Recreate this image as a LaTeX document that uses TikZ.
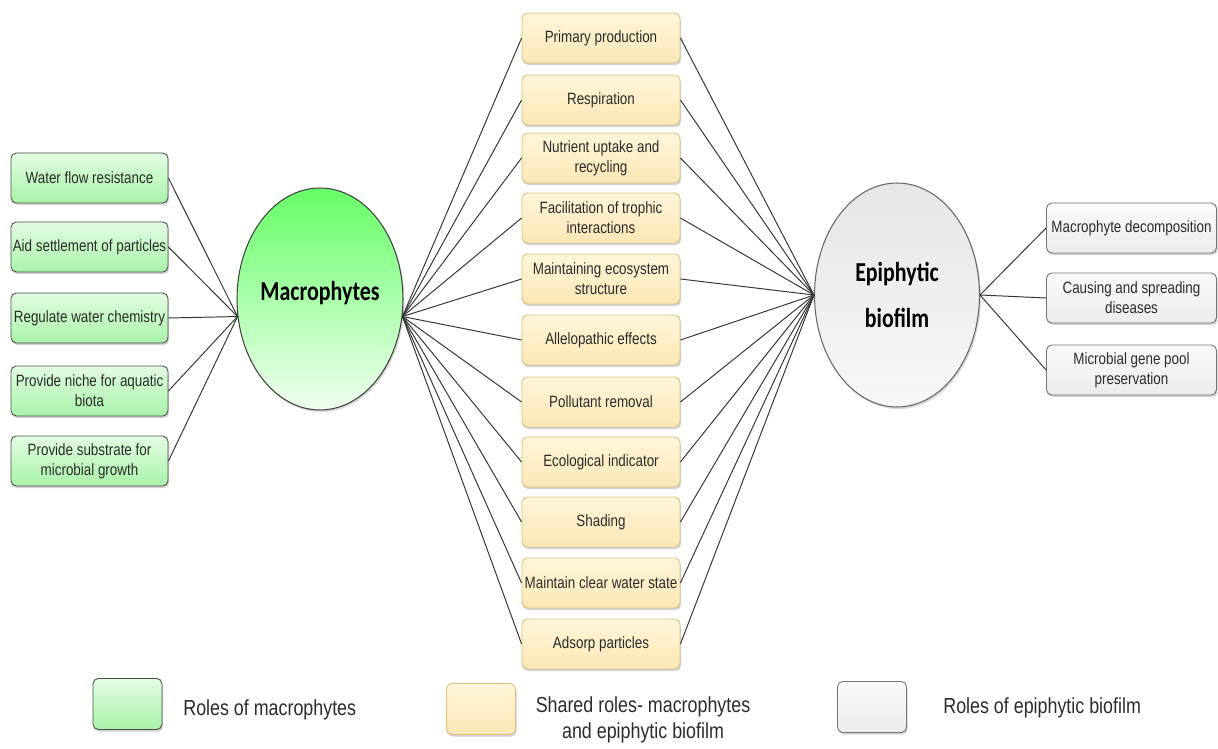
\documentclass[tikz,border=0pt]{standalone}
\usepackage{fontspec}
\setmainfont{Liberation Sans}[FakeStretch=0.82]
\newfontfamily\hubfont{Carlito}[FakeStretch=0.8]
\usepackage{tikz}
\usetikzlibrary{shapes}
\usetikzlibrary{shadows}

\definecolor{macTop}{HTML}{66FF66}
\definecolor{macBottom}{HTML}{F0FFF0}
\definecolor{greenTop}{HTML}{E3FCE3}
\definecolor{greenBottom}{HTML}{A8F3A8}
\definecolor{shareTop}{HTML}{FFF6DA}
\definecolor{shareBottom}{HTML}{FBE7B4}
\definecolor{shareLine}{HTML}{D8C07E}
\definecolor{epiTop}{HTML}{E6E6E6}
\definecolor{epiBottom}{HTML}{F7F7F7}
\definecolor{greyTop}{HTML}{FAFAFA}
\definecolor{greyBottom}{HTML}{ECECEC}
\definecolor{textGrey}{HTML}{2B2B2B}

\begin{document}
\begin{tikzpicture}[x=0.02cm, y=-0.02cm,
        box_style/.style={rectangle, rounded corners=3pt, align=center, inner sep=1pt,
            font=\fontsize{9.3}{11.5}\selectfont, text=textGrey, line width=0.5pt,
            drop shadow={shadow xshift=0.6pt, shadow yshift=-1.2pt, opacity=0.35}},
        mac_style/.style={box_style, draw=black!70, top color=greenTop, bottom color=greenBottom,
            minimum width=3.14cm, minimum height=1cm},
        shared_style/.style={box_style, draw=shareLine, top color=shareTop, bottom color=shareBottom,
            minimum width=3.16cm, minimum height=1cm},
        epi_style/.style={box_style, draw=black!55, top color=greyTop, bottom color=greyBottom,
            minimum width=3.4cm, minimum height=1cm},
        hub_style/.style={ellipse, inner sep=0pt, align=center, line width=0.6pt,
            font=\hubfont\bfseries\fontsize{15.6}{26}\selectfont,
            drop shadow={shadow xshift=0.8pt, shadow yshift=-1.2pt, opacity=0.3}},
        key_style/.style={rectangle, rounded corners=3pt, minimum width=1.38cm, minimum height=1.02cm,
            line width=0.5pt, drop shadow={shadow xshift=0.6pt, shadow yshift=-1.2pt, opacity=0.35}},
        key_text/.style={font=\fontsize{12.4}{15}\selectfont, text=textGrey, align=center, inner sep=0pt},
        edge_style/.style={draw=black!80, line width=0.55pt}]

        \useasboundingbox (0,0) rectangle (1218,749);

        % hubs
        \node [hub_style, draw=black!75, top color=macTop, bottom color=macBottom,
            minimum width=3.32cm, minimum height=4.44cm](mac) at (320,299) {};
        \node [font=\hubfont\bfseries\fontsize{15.6}{26}\selectfont](mac_label) at (320,293) {Macrophytes};

        \node [hub_style, draw=black!60, top color=epiTop, bottom color=epiBottom,
            minimum width=3.3cm, minimum height=4.48cm](epi) at (897,295) {Epiphytic\\biofilm};

        % roles of macrophytes
        \node [mac_style](l1) at (89.5,178) {Water flow resistance};
        \node [mac_style](l2) at (89.5,247) {Aid settlement of particles};
        \node [mac_style](l3) at (89.5,318) {Regulate water chemistry};
        \node [mac_style](l4) at (89.5,391) {Provide niche for aquatic\\biota};
        \node [mac_style](l5) at (89.5,461) {Provide substrate for\\microbial growth};

        % shared roles
        \node [shared_style](m1) at (601,38) {Primary production};
        \node [shared_style](m2) at (601,100) {Respiration};
        \node [shared_style](m3) at (601,158) {Nutrient uptake and\\recycling};
        \node [shared_style](m4) at (601,218) {Facilitation of trophic\\interactions};
        \node [shared_style](m5) at (601,279) {Maintaining ecosystem\\structure};
        \node [shared_style](m6) at (601,340) {Allelopathic effects};
        \node [shared_style](m7) at (601,402) {Pollutant removal};
        \node [shared_style](m8) at (601,462) {Ecological indicator};
        \node [shared_style](m9) at (601,522) {Shading};
        \node [shared_style](m10) at (601,583) {Maintain clear water state};
        \node [shared_style](m11) at (601,644) {Adsorp particles};

        % roles of epiphytic biofilm
        \node [epi_style](r1) at (1131.5,228) {Macrophyte decomposition};
        \node [epi_style](r2) at (1131.5,298) {Causing and spreading\\diseases};
        \node [epi_style](r3) at (1131.5,370) {Microbial gene pool\\preservation};

        % connectors
        \draw [edge_style] (l1.east) -- (mac.192);
        \draw [edge_style] (l2.east) -- (mac.192);
        \draw [edge_style] (l3.east) -- (mac.192);
        \draw [edge_style] (l4.east) -- (mac.192);
        \draw [edge_style] (l5.east) -- (mac.192);

        \draw [edge_style] (mac.348) -- (m1.west);
        \draw [edge_style] (mac.348) -- (m2.west);
        \draw [edge_style] (mac.348) -- (m3.west);
        \draw [edge_style] (mac.348) -- (m4.west);
        \draw [edge_style] (mac.348) -- (m5.west);
        \draw [edge_style] (mac.348) -- (m6.west);
        \draw [edge_style] (mac.348) -- (m7.west);
        \draw [edge_style] (mac.348) -- (m8.west);
        \draw [edge_style] (mac.348) -- (m9.west);
        \draw [edge_style] (mac.348) -- (m10.west);
        \draw [edge_style] (mac.348) -- (m11.west);

        \draw [edge_style] (m1.east) -- (epi.west);
        \draw [edge_style] (m2.east) -- (epi.west);
        \draw [edge_style] (m3.east) -- (epi.west);
        \draw [edge_style] (m4.east) -- (epi.west);
        \draw [edge_style] (m5.east) -- (epi.west);
        \draw [edge_style] (m6.east) -- (epi.west);
        \draw [edge_style] (m7.east) -- (epi.west);
        \draw [edge_style] (m8.east) -- (epi.west);
        \draw [edge_style] (m9.east) -- (epi.west);
        \draw [edge_style] (m10.east) -- (epi.west);
        \draw [edge_style] (m11.east) -- (epi.west);

        \draw [edge_style] (epi.east) -- (r1.west);
        \draw [edge_style] (epi.east) -- (r2.west);
        \draw [edge_style] (epi.east) -- (r3.west);

        % legend
        \node [key_style, draw=black!70, top color=greenTop, bottom color=greenBottom](k1) at (127.5,704) {};
        \node [key_text, anchor=west](k1_text) at (183,710) {Roles of macrophytes};
        \node [key_style, draw=shareLine, top color=shareTop, bottom color=shareBottom](k2) at (481,709) {};
        \node [key_text, anchor=north](k2_text) at (643,696) {Shared roles- macrophytes\\and epiphytic biofilm};
        \node [key_style, draw=black!55, top color=greyTop, bottom color=greyBottom](k3) at (872,707) {};
        \node [key_text, anchor=west](k3_text) at (943,708) {Roles of epiphytic biofilm};

\end{tikzpicture}
\end{document}
